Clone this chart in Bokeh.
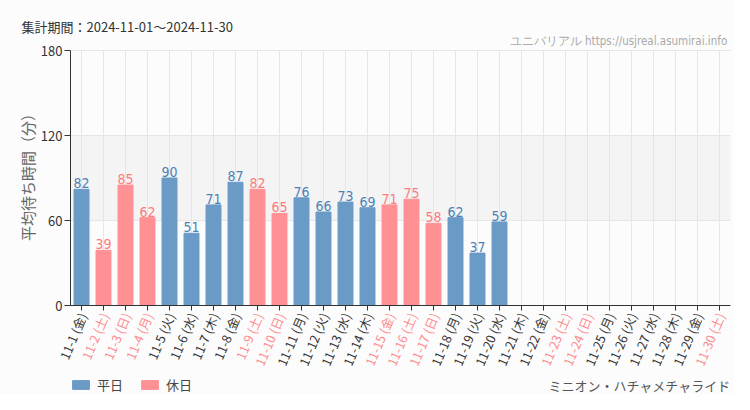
import numpy as np
from bokeh.plotting import figure
from bokeh.models import (ColumnDataSource, LabelSet, Label, Range1d, Legend, LegendItem)
from bokeh.core.properties import value
from bokeh.embed import file_html
from bokeh.resources import INLINE

# ---- data ----
days = ["11-1", "11-2", "11-3", "11-4", "11-5", "11-6", "11-7", "11-8", "11-9", "11-10",
        "11-11", "11-12", "11-13", "11-14", "11-15", "11-16", "11-17", "11-18", "11-19", "11-20",
        "11-21", "11-22", "11-23", "11-24", "11-25", "11-26", "11-27", "11-28", "11-29", "11-30"]
dow = ["金", "土", "日", "月", "火", "水", "木", "金", "土", "日",
       "月", "火", "水", "木", "金", "土", "日", "月", "火", "水",
       "木", "金", "土", "日", "月", "火", "水", "木", "金", "土"]
holiday = [0, 1, 1, 1, 0, 0, 0, 0, 1, 1,
           0, 0, 0, 0, 1, 1, 1, 0, 0, 0,
           0, 0, 1, 1, 0, 0, 0, 0, 0, 1]
wait = [82, 39, 85, 62, 90, 51, 71, 87, 82, 65,
        76, 66, 73, 69, 71, 75, 58, 62, 37, 59]
y_ticks = [0, 60, 120, 180]

BLUE = "#6a9ac6"
RED = "#ff9195"
BLUE_TXT = "#4d82b8"
RED_TXT = "#ff7a80"
XRED = "#ff8a8e"
BG = "#fbfcfb"
GRID = "#e6e6e6"
AX = "#333333"
JP = "Noto Sans CJK JP"
NARROW = "DejaVu Sans Condensed"

# ---- geometry (pixels) ----
W, H = 734, 394
PX_PER_DAY = 22.0          # category spacing
FIRST_X = 81.0             # canvas x of first category
Y0_PX, Y180_PX = 305.0, 50.0  # canvas y (from top) of value 0 and value 180
ppu = (Y0_PX - Y180_PX) / (y_ticks[-1] - y_ticks[0])

n = len(days)
pos = list(range(1, n + 1))
labels = [f"{d} ({w})" for d, w in zip(days, dow)]

x_start = 1 - FIRST_X / PX_PER_DAY
x_end = 1 + (W - FIRST_X) / PX_PER_DAY
y_end = y_ticks[-1] + Y180_PX / ppu
y_start = -(H - Y0_PX) / ppu

p = figure(width=W, height=H, output_backend="svg", toolbar_location=None,
           x_range=Range1d(x_start, x_end), y_range=Range1d(y_start, y_end),
           x_axis_type=None, y_axis_type=None,
           min_border=0, min_border_left=0, min_border_right=0,
           min_border_top=0, min_border_bottom=0,
           background_fill_color=BG, border_fill_color=BG, outline_line_color=None)

lo, hi = pos[0] - 0.5, pos[-1] + 0.5

# shaded band 60-120
p.quad(left=[lo], right=[hi], bottom=[y_ticks[1]], top=[y_ticks[2]],
       fill_color="#f3f4f3", line_color=None)
# grid
p.segment(x0=pos, y0=[y_ticks[0]] * n, x1=pos, y1=[y_ticks[-1]] * n, line_color=GRID, line_width=1)
p.segment(x0=[lo] * 3, y0=y_ticks[1:], x1=[hi] * 3, y1=y_ticks[1:], line_color=GRID, line_width=1)

# bars
wk = dict(x=[], y=[], lab=[])
hd = dict(x=[], y=[], lab=[])
for i, v in enumerate(wait):
    tgt = hd if holiday[i] else wk
    tgt["x"].append(pos[i])
    tgt["y"].append(v)
    tgt["lab"].append(str(v))
src_wk = ColumnDataSource(wk)
src_hd = ColumnDataSource(hd)
r1 = p.vbar(x="x", top="y", width=0.68, source=src_wk, fill_color=BLUE, line_color=BLUE)
r2 = p.vbar(x="x", top="y", width=0.68, source=src_hd, fill_color=RED, line_color=RED)

# axes lines and ticks
p.segment(x0=[lo], y0=[0], x1=[hi], y1=[0], line_color=AX, line_width=1)
p.segment(x0=[lo], y0=[y_ticks[0]], x1=[lo], y1=[y_ticks[-1]], line_color=AX, line_width=1)
p.ray(x=pos, y=[0] * n, length=5, length_units="screen", angle=-np.pi / 2,
      line_color=AX, line_width=1)
p.ray(x=[lo] * len(y_ticks), y=y_ticks, length=6, length_units="screen", angle=np.pi,
      line_color=AX, line_width=1)

# y tick labels
p.add_layout(LabelSet(x="x", y="y", text="t", x_offset=-8,
                      source=ColumnDataSource(dict(x=[lo] * len(y_ticks), y=y_ticks,
                                                   t=[str(t) for t in y_ticks])),
                      text_align="right", text_baseline="middle", text_color=AX,
                      text_font=value(JP), text_font_size="13px"))
# y axis title
p.add_layout(Label(x=27, y=H - 173, x_units="screen", y_units="screen", angle=np.pi / 2,
                   text="平均待ち時間（分）", text_font=JP, text_font_size="15px",
                   text_color="#666666", text_align="center", text_baseline="middle"))

# value labels
p.add_layout(LabelSet(x="x", y="y", text="lab", source=src_wk, text_align="center",
                      text_baseline="bottom", y_offset=1, text_color=BLUE_TXT,
                      text_font=value(NARROW), text_font_size="14px"))
p.add_layout(LabelSet(x="x", y="y", text="lab", source=src_hd, text_align="center",
                      text_baseline="bottom", y_offset=1, text_color=RED_TXT,
                      text_font=value(NARROW), text_font_size="14px"))

# x labels, coloured by holiday
xsrc = ColumnDataSource(dict(x=pos, y=[0] * n, t=labels,
                             c=[XRED if h else AX for h in holiday]))
p.add_layout(LabelSet(x="x", y="y", text="t", source=xsrc, y_offset=-8, x_offset=1,
                      angle=1.17, text_align="right", text_baseline="middle",
                      text_color="c", text_font=value(JP), text_font_size="12.5px"))

# texts
p.add_layout(Label(x=21, y=H - 26, x_units="screen", y_units="screen",
                   text="集計期間：2024-11-01～2024-11-30", text_font=JP, text_font_size="13px",
                   text_color="#333333", text_baseline="middle", text_align="left"))
p.add_layout(Label(x=730, y=H - 40, x_units="screen", y_units="screen",
                   text="ユニバリアル  https://usjreal.asumirai.info", text_font=NARROW,
                   text_font_size="11.5px", text_color="#aaaaaa", text_baseline="middle",
                   text_align="right"))
p.add_layout(Label(x=730, y=H - 385, x_units="screen", y_units="screen",
                   text="ミニオン・ハチャメチャライド", text_font=JP, text_font_size="13px",
                   text_color="#555555", text_baseline="middle", text_align="right"))

legend = Legend(items=[LegendItem(label="平日", renderers=[r1]),
                       LegendItem(label="休日", renderers=[r2])],
                location=(70, 0), orientation="horizontal",
                label_text_font=JP, label_text_font_size="13px", label_text_color="#444444",
                glyph_width=21, glyph_height=11, label_height=11, label_standoff=6, spacing=16,
                padding=0, margin=0, background_fill_alpha=0, border_line_color=None)
p.add_layout(legend)

html = file_html(p, INLINE)
html = html.replace("<body>", '<body style="background:%s">' % BG, 1)
open("out.html", "w").write(html)
